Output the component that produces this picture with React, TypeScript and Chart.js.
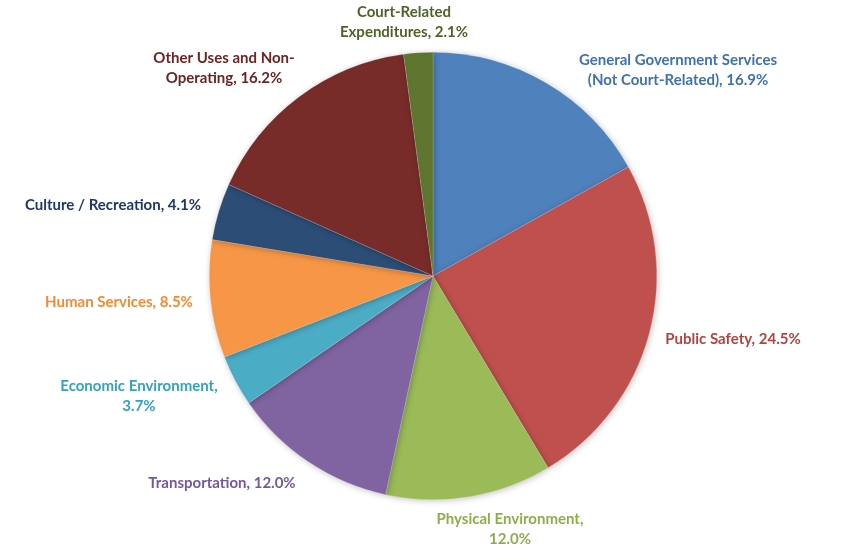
import React, { useEffect, useRef } from "react";
import { Chart, registerables } from "chart.js";

Chart.register(...registerables);

const categories: string[][] = [
  ["General Government Services", "(Not Court-Related), 16.9%"],
  ["Public Safety, 24.5%"],
  ["Physical Environment,", "12.0%"],
  ["Transportation, 12.0%"],
  ["Economic Environment,", "3.7%"],
  ["Human Services, 8.5%"],
  ["Culture / Recreation, 4.1%"],
  ["Other Uses and Non-", "Operating, 16.2%"],
  ["Court-Related", "Expenditures, 2.1%"],
];
const values = [16.9, 24.5, 12.0, 12.0, 3.7, 8.5, 4.1, 16.2, 2.1];
const sliceColors = ["#4F81BD", "#C0504D", "#9BBB59", "#8064A2", "#4BACC6", "#F79646", "#2C4D75", "#772C2A", "#5F7530"];
const labelColors = ["#3F72B3", "#B4433F", "#8DAF4A", "#7458A0", "#35A2BF", "#F58A32", "#1F3864", "#6E2422", "#4F6228"];
// label block centres, relative to the pie centre
const labelOffsets: [number, number][] = [
  [245, -206], [300, 63], [77, 253], [-211, 207], [-294, 120], [-314, 26], [-320, -71], [-209, -208], [-29, -254],
];

const labelPlugin = {
  id: "outLabels",
  afterDraw(chart: any) {
    const ctx = chart.ctx;
    const meta = chart.getDatasetMeta(0);
    const arc = meta.data[0];
    const cx = arc.x, cy = arc.y;
    ctx.save();
    ctx.font = "bold 15px Lato";
    ctx.textAlign = "center";
    ctx.textBaseline = "middle";
    categories.forEach((lines, i) => {
      const [dx, dy] = labelOffsets[i];
      ctx.fillStyle = labelColors[i];
      const lh = 20;
      const y0 = cy + dy - ((lines.length - 1) * lh) / 2;
      lines.forEach((t, j) => ctx.fillText(t, cx + dx, y0 + j * lh));
    });
    ctx.restore();
  },
};

const shadowPlugin = {
  id: "pieShadow",
  beforeDatasetsDraw(chart: any) {
    const ctx = chart.ctx;
    ctx.save();
    ctx.shadowColor = "rgba(0,0,0,0.25)";
    ctx.shadowBlur = 6;
    ctx.shadowOffsetX = 1;
    ctx.shadowOffsetY = 1;
  },
  afterDatasetsDraw(chart: any) {
    chart.ctx.restore();
  },
};

export default function App() {
  const ref = useRef<HTMLCanvasElement>(null);
  useEffect(() => {
    document.body.style.margin = "0";
    const chart = new Chart(ref.current!, {
      type: "pie",
      data: {
        labels: categories.map((l) => l.join(" ")),
        datasets: [
          {
            data: values,
            backgroundColor: sliceColors,
            borderColor: "rgba(255,255,255,0.35)",
            borderWidth: 0.5,
          },
        ],
      },
      options: {
        animation: false,
        responsive: false,
        layout: { padding: { left: 209, right: 193, top: 52, bottom: 51 } },
        plugins: { legend: { display: false }, tooltip: { enabled: false } },
      },
      plugins: [shadowPlugin, labelPlugin],
    });
    return () => chart.destroy();
  }, []);
  return (
    <div style={{ width: 850, height: 551, background: "#fff" }}>
      <canvas ref={ref} width={850} height={551} />
    </div>
  );
}
